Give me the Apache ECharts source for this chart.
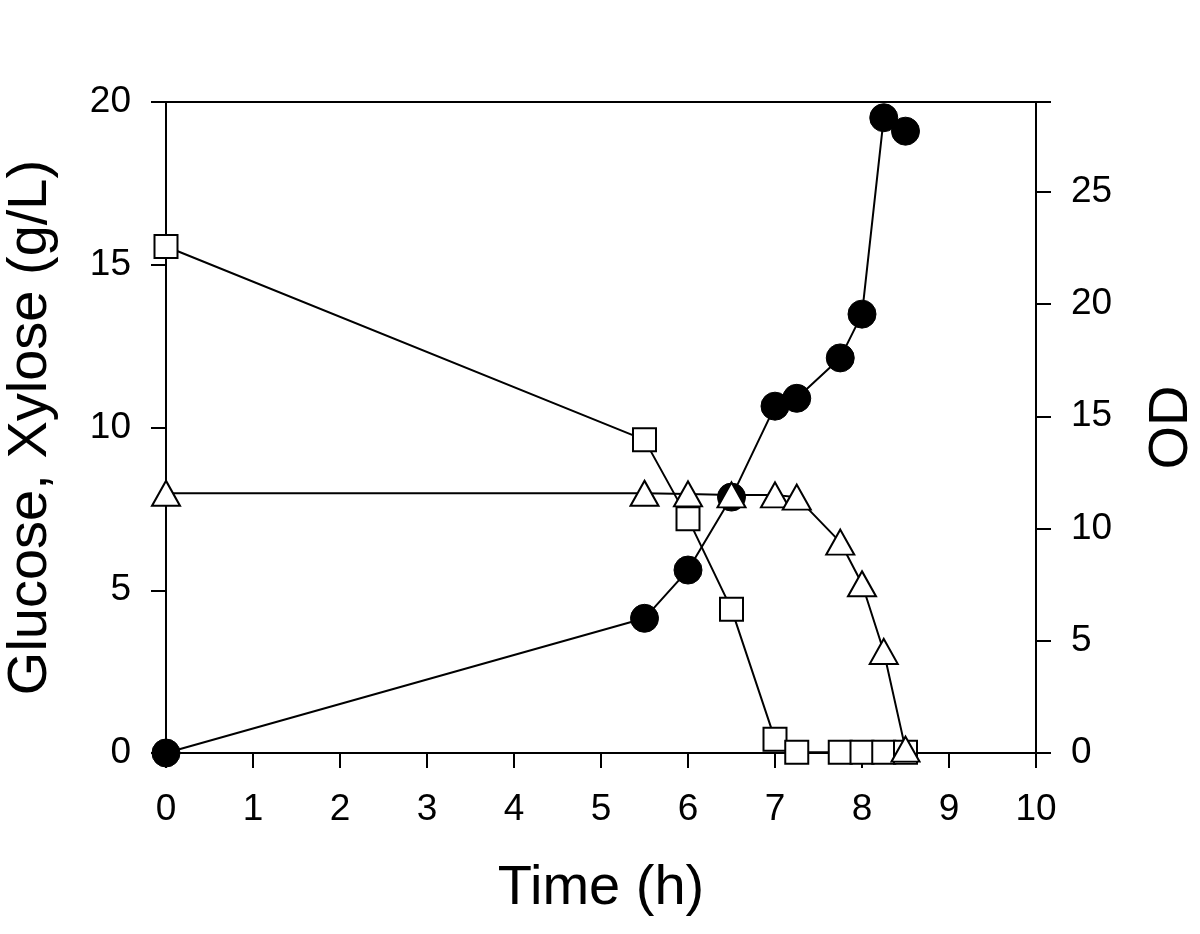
<!DOCTYPE html>
<html>
<head>
<meta charset="utf-8">
<script src="https://cdn.jsdelivr.net/npm/echarts@6/dist/echarts.min.js"></script>
<style>html,body{margin:0;padding:0;background:#fff}#c{width:1200px;height:934px}</style>
</head>
<body>
<div id="c"></div>
<script>
// Data
const odTime = [0, 5.5, 6, 6.5, 7, 7.25, 7.75, 8, 8.25, 8.5];
const odValues = [0, 6.0, 8.15, 11.4, 15.45, 15.8, 17.6, 19.55, 28.3, 27.7];
const squareTime = [0, 5.5, 6, 6.5, 7, 7.25, 7.75, 8, 8.25, 8.5];
const squareValues = [15.56, 9.62, 7.2, 4.42, 0.42, 0.02, 0.02, 0.02, 0.02, 0.02];
const triangleTime = [0, 5.5, 6, 6.5, 7, 7.25, 7.75, 8, 8.25, 8.5];
const triangleValues = [7.98, 7.98, 7.96, 7.93, 7.93, 7.86, 6.48, 5.2, 3.12, 0.12];
const xTicks = [0, 1, 2, 3, 4, 5, 6, 7, 8, 9, 10];

const font = 'Liberation Sans, Arial, sans-serif';
const pair = (xs, ys) => xs.map((x, i) => [x, ys[i]]);
const axisCommon = {
  axisLine: {show: true, lineStyle: {color: '#000', width: 2}},
  axisTick: {show: true, inside: false, length: 15, lineStyle: {color: '#000', width: 2}},
  splitLine: {show: false},
  nameTextStyle: {color: '#000', fontFamily: font, fontSize: 56},
};
const chart = echarts.init(document.getElementById('c'), null, {renderer: 'canvas'});
chart.setOption({
  animation: false,
  backgroundColor: '#fff',
  grid: {left: 166, right: 164, top: 102, bottom: 181, show: true, borderColor: '#000', borderWidth: 2,
    containLabel: false, outerBoundsMode: 'none'},
  xAxis: Object.assign({}, axisCommon, {
    type: 'value', min: 0, max: 10, interval: 1,
    name: 'Time (h)', nameLocation: 'middle', nameGap: 108,
    axisLabel: {color: '#000', fontFamily: font, fontSize: 37, margin: 38,
      formatter: v => xTicks.includes(v) ? String(v) : ''}
  }),
  yAxis: [
    Object.assign({}, axisCommon, {
      type: 'value', min: 0, max: 20, interval: 5, position: 'left',
      name: 'Glucose, Xylose (g/L)', nameLocation: 'middle', nameGap: 107,
      axisLabel: {color: '#000', fontFamily: font, fontSize: 37, margin: 35}
    }),
    Object.assign({}, axisCommon, {
      type: 'value', min: 0, max: 29, interval: 5, position: 'right',
      name: 'OD', nameLocation: 'middle', nameGap: 108,
      axisLabel: {color: '#000', fontFamily: font, fontSize: 37, margin: 35,
        formatter: v => (v % 5 === 0 ? String(v) : '')}
    })
  ],
  series: [
    {
      type: 'line', yAxisIndex: 1, data: pair(odTime, odValues),
      symbol: 'circle', symbolSize: 28,
      lineStyle: {color: '#000', width: 2},
      itemStyle: {color: '#000', borderColor: '#000', borderWidth: 1}, z: 2
    },
    {
      type: 'line', yAxisIndex: 0, data: pair(squareTime, squareValues),
      symbol: 'rect', symbolSize: 23,
      lineStyle: {color: '#000', width: 2},
      itemStyle: {color: '#fff', borderColor: '#000', borderWidth: 2}, z: 3
    },
    {
      type: 'line', yAxisIndex: 0, data: pair(triangleTime, triangleValues),
      symbol: 'triangle', symbolSize: [28, 25],
      lineStyle: {color: '#000', width: 2},
      itemStyle: {color: '#fff', borderColor: '#000', borderWidth: 2}, z: 4
    }
  ]
});
</script>
</body>
</html>
